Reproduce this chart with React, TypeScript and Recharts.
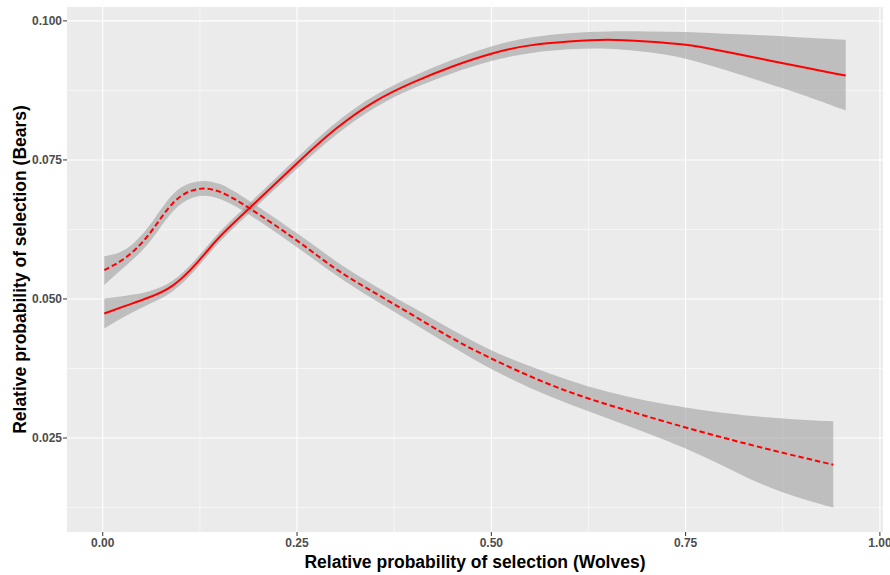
import React from "react";
import {
  ComposedChart,
  Line,
  Area,
  XAxis,
  YAxis,
  CartesianGrid,
  Label,
} from "recharts";

const xValues = [0.002, 0.03, 0.06, 0.09, 0.12, 0.15, 0.19, 0.25, 0.3, 0.35, 0.4, 0.45, 0.5, 0.55, 0.6, 0.65, 0.7, 0.75, 0.8, 0.85, 0.9, 0.94, 0.956];

const solidFit = [0.0474, 0.0488, 0.0503, 0.0524, 0.0563, 0.0611, 0.0665, 0.0744, 0.0806, 0.0855, 0.089, 0.0918, 0.0941, 0.0956, 0.0963, 0.0966, 0.0963, 0.0957, 0.0945, 0.0931, 0.0917, 0.0906, 0.0902];
const solidLow = [0.0447, 0.047, 0.0491, 0.0514, 0.0554, 0.0602, 0.0656, 0.0734, 0.0795, 0.0844, 0.0879, 0.0906, 0.0928, 0.0942, 0.0949, 0.095, 0.0944, 0.0932, 0.0912, 0.089, 0.0867, 0.0847, 0.0839];
const solidHigh = [0.0501, 0.0506, 0.0514, 0.0533, 0.0572, 0.062, 0.0674, 0.0754, 0.0817, 0.0866, 0.0901, 0.093, 0.0954, 0.097, 0.0978, 0.0981, 0.0981, 0.098, 0.0977, 0.0974, 0.097, 0.0967, 0.0966];

const dashedFit = [0.0552, 0.0575, 0.0617, 0.0672, 0.0697, 0.0693, 0.0662, 0.0605, 0.0554, 0.0511, 0.047, 0.0429, 0.0393, 0.0361, 0.0333, 0.031, 0.0289, 0.0269, 0.025, 0.0232, 0.0215, 0.0202, null];
const dashedLow = [0.0525, 0.056, 0.0602, 0.0657, 0.0684, 0.068, 0.065, 0.0593, 0.0543, 0.0498, 0.0456, 0.0414, 0.0374, 0.034, 0.0311, 0.0285, 0.0259, 0.0231, 0.0199, 0.0166, 0.0141, 0.0125, null];
const dashedHigh = [0.0577, 0.059, 0.0632, 0.0688, 0.0711, 0.0707, 0.0675, 0.0618, 0.0568, 0.0524, 0.0484, 0.0444, 0.0408, 0.0379, 0.0354, 0.0333, 0.0317, 0.0305, 0.0295, 0.0288, 0.0283, 0.028, null];

const xTicks = [0, 0.25, 0.5, 0.75, 1];
const xTickLabels = ["0.00", "0.25", "0.50", "0.75", "1.00"];
const xMinor = [0.125, 0.375, 0.625, 0.875];
const yTicks = [0.025, 0.05, 0.075, 0.1];
const yTickLabels = ["0.025", "0.050", "0.075", "0.100"];
const yMinor = [0.0125, 0.0375, 0.0625, 0.0875];

const xTitle = "Relative probability of selection (Wolves)";
const yTitle = "Relative probability of selection (Bears)";

const data = xValues.map((x, i) => ({
  x,
  solid: solidFit[i],
  solidBand: [solidLow[i], solidHigh[i]],
  dashed: dashedFit[i],
  dashedBand: dashedLow[i] == null ? null : [dashedLow[i], dashedHigh[i]],
}));

const FONT = "'Liberation Sans', Arial, sans-serif";
const tickStyle = { fill: "#4D4D4D", fontSize: 12, fontWeight: 700, fontFamily: FONT };

const YTitle = (props: any) => {
  const vb = props.viewBox || { x: 0, y: 7, width: 67, height: 525 };
  const cx = vb.x + 20;
  const cy = vb.y + vb.height / 2;
  return (
    <text
      x={cx}
      y={cy}
      transform={`rotate(-90, ${cx}, ${cy})`}
      textAnchor="middle"
      dominantBaseline="central"
      fill="#000"
      fontSize={17.5}
      fontWeight={700}
      fontFamily={FONT}
    >
      {yTitle}
    </text>
  );
};

export default function App() {
  return (
    <div style={{ position: "absolute", left: 0, top: 0, background: "#fff" }}>
      <ComposedChart
        width={890}
        height={575}
        data={data}
        margin={{ top: 7, right: 7, bottom: 0, left: 0 }}
      >
        <CartesianGrid fill="#EBEBEB" stroke="#FFFFFF" strokeWidth={1.1} horizontalValues={yTicks} verticalValues={xTicks} />
        <CartesianGrid stroke="#FFFFFF" strokeWidth={0.55} horizontalValues={yMinor} verticalValues={xMinor} />
        <XAxis
          dataKey="x"
          type="number"
          domain={[-0.046, 1.004]}
          ticks={xTicks}
          tickFormatter={(v: number) => xTickLabels[xTicks.indexOf(v)] ?? ""}
          allowDataOverflow
          axisLine={false}
          tickLine={{ stroke: "#333333", strokeWidth: 1 }}
          tickSize={4}
          tickMargin={2}
          tick={tickStyle}
          height={43}
          interval={0}
        >
          <Label
            value={xTitle}
            position="insideBottom"
            offset={7}
            fill="#000"
            fontSize={17.5}
            fontWeight={700}
            fontFamily={FONT}
          />
        </XAxis>
        <YAxis
          type="number"
          domain={[0.0081, 0.1025]}
          ticks={yTicks}
          tickFormatter={(v: number) => yTickLabels[yTicks.indexOf(v)] ?? ""}
          allowDataOverflow
          axisLine={false}
          tickLine={{ stroke: "#333333", strokeWidth: 1 }}
          tickSize={4}
          tickMargin={1}
          tick={tickStyle}
          width={67}
          interval={0}
        >
          <Label content={<YTitle />} />
        </YAxis>
        <Area
          type="natural"
          dataKey="solidBand"
          stroke="none"
          fill="#999999"
          fillOpacity={0.55}
          isAnimationActive={false}
          activeDot={false}
        />
        <Area
          type="natural"
          dataKey="dashedBand"
          stroke="none"
          fill="#999999"
          fillOpacity={0.55}
          isAnimationActive={false}
          activeDot={false}
        />
        <Line
          type="natural"
          dataKey="solid"
          stroke="#FF0000"
          strokeWidth={2}
          dot={false}
          activeDot={false}
          isAnimationActive={false}
        />
        <Line
          type="natural"
          dataKey="dashed"
          stroke="#FF0000"
          strokeWidth={2}
          strokeDasharray="5.5 3"
          dot={false}
          activeDot={false}
          isAnimationActive={false}
        />
      </ComposedChart>
    </div>
  );
}
